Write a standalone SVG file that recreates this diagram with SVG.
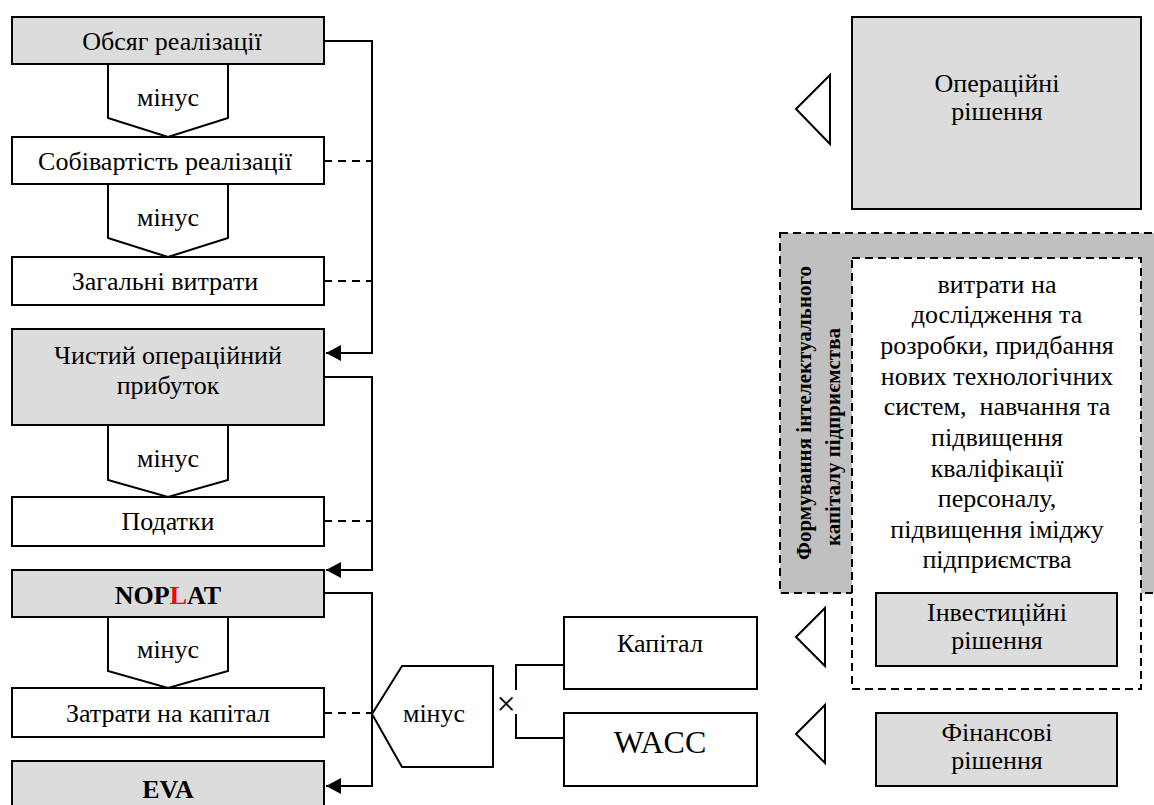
<svg xmlns="http://www.w3.org/2000/svg" width="1154" height="805" viewBox="0 0 1154 805" font-family="'Liberation Serif', 'DejaVu Serif', serif">
<style>
text{font-family:'Liberation Serif','DejaVu Serif',serif;font-size:26px;fill:#000;text-anchor:middle}
.b{font-weight:bold}
.v{font-weight:bold;font-size:21px}
.box{stroke:#000;stroke-width:2;fill:#fff}
.g{fill:#dcdcdc}
.line{fill:none;stroke:#000;stroke-width:2}
.dash{fill:none;stroke:#000;stroke-width:2;stroke-dasharray:8 6}
.dbox{stroke:#000;stroke-width:2;stroke-dasharray:8 5}
.tri{fill:#fff;stroke:#000;stroke-width:2}
</style>
<defs>
<marker id="arr" markerUnits="userSpaceOnUse" markerWidth="16" markerHeight="16" refX="15" refY="8" orient="auto">
<path d="M0,0 L15,8 L0,16 Z" fill="#000"/>
</marker>
</defs>
<g id="connectors">
<polyline class="line" points="324,41 372,41 372,353 326,353" marker-end="url(#arr)"/>
<line class="dash" x1="324" y1="161" x2="372" y2="161"/>
<line class="dash" x1="324" y1="281" x2="372" y2="281"/>
<polyline class="line" points="324,377 372,377 372,570 326,570" marker-end="url(#arr)"/>
<line class="dash" x1="324" y1="521" x2="372" y2="521"/>
<polyline class="line" points="324,593 372,593 372,786 326,786" marker-end="url(#arr)"/>
<line class="dash" x1="324" y1="713" x2="372" y2="713"/>
<polyline class="line" points="516,690 516,665 564,665"/>
<polyline class="line" points="516,714 516,738 564,738"/>
</g>
<g id="obsyag"><rect class="box g" x="12" y="17" width="312" height="47"/><text x="172" y="50">Обсяг реалізації</text></g>
<g id="minus1"><polygon class="box" points="108,64 228,64 228,118 168,137 108,118"/><text x="168" y="106">мінус</text></g>
<g id="sobivartist"><rect class="box" x="12" y="137" width="312" height="47"/><text x="165" y="170">Собівартість реалізації</text></g>
<g id="minus2"><polygon class="box" points="108,184 228,184 228,238 168,257 108,238"/><text x="168" y="226">мінус</text></g>
<g id="zagalni"><rect class="box" x="12" y="257" width="312" height="48"/><text x="165" y="290">Загальні витрати</text></g>
<g id="chystyi"><rect class="box g" x="12" y="329" width="312" height="96"/><text x="168" y="364">Чистий операційний</text><text x="168" y="394">прибуток</text></g>
<g id="minus3"><polygon class="box" points="108,425 228,425 228,480 168,497 108,480"/><text x="168" y="467">мінус</text></g>
<g id="podatky"><rect class="box" x="12" y="497" width="312" height="49"/><text x="168" y="530">Податки</text></g>
<g id="noplat"><rect class="box g" x="12" y="570" width="312" height="47"/><text class="b" x="168" y="604">NOP<tspan fill="#ff0000">L</tspan>AT</text></g>
<g id="minus4"><polygon class="box" points="108,617 228,617 228,671 168,688 108,671"/><text x="168" y="658">мінус</text></g>
<g id="zatraty"><rect class="box" x="12" y="688" width="312" height="49"/><text x="168" y="722">Затрати на капітал</text></g>
<g id="eva"><rect class="box g" x="12" y="761" width="312" height="60"/><text class="b" x="168" y="798">EVA</text></g>
<g id="minus5"><polygon class="box" points="372,714 402,666 493,666 493,767 402,767"/><text x="434" y="722">мінус</text></g>
<g id="times"><text x="506" y="715" style="font-size:34px">×</text></g>
<g id="kapital"><rect class="box" x="564" y="617" width="193" height="72"/><text x="660" y="652">Капітал</text></g>
<g id="wacc"><rect class="box" x="564" y="713" width="193" height="73"/><text x="660" y="753" style="font-size:32px">WACC</text></g>
<g id="operatsiini"><polygon class="tri" points="796,109 830,75 830,144"/><rect class="box g" x="852" y="17" width="289" height="192"/><text x="997" y="92">Операційні</text><text x="997" y="120">рішення</text></g>
<g id="intelekt"><rect class="dbox" x="780" y="233" width="390" height="360" fill="#c0c0c0"/>
<text class="v" transform="translate(811,413) rotate(-90)" x="0" y="0">Формування інтелектуального</text>
<text class="v" transform="translate(840,437) rotate(-90)" x="0" y="0">капіталу підприємства</text>
<rect class="dbox" x="852" y="258" width="289" height="431" fill="#fff"/>
<text x="997" y="293">витрати на</text>
<text x="997" y="323">дослідження та</text>
<text x="997" y="354">розробки, придбання</text>
<text x="997" y="385">нових технологічних</text>
<text x="997" y="415" xml:space="preserve">систем,  навчання та</text>
<text x="997" y="446">підвищення</text>
<text x="997" y="477">кваліфікації</text>
<text x="997" y="507">персоналу,</text>
<text x="997" y="538">підвищення іміджу</text>
<text x="997" y="568">підприємства</text></g>
<g id="investytsiini"><polygon class="tri" points="796,637 825,608 825,666"/><rect class="box g" x="876" y="593" width="241" height="73"/><text x="997" y="621">Інвестиційні</text><text x="997" y="649">рішення</text></g>
<g id="finansovi"><polygon class="tri" points="796,734 825,705 825,763"/><rect class="box g" x="876" y="713" width="241" height="73"/><text x="997" y="741">Фінансові</text><text x="997" y="769">рішення</text></g>
</svg>
